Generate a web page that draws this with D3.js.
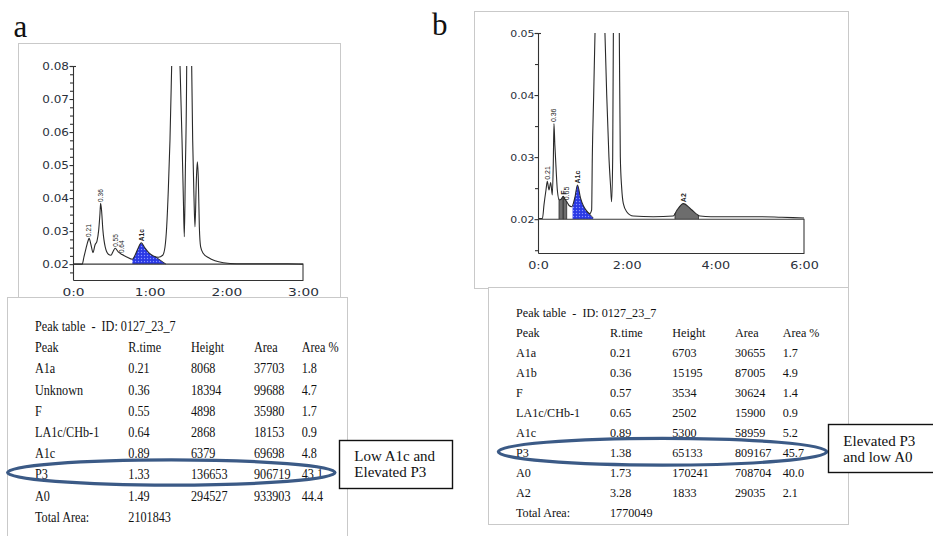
<!DOCTYPE html>
<html>
<head>
<meta charset="utf-8">
<script src="https://cdn.jsdelivr.net/npm/d3@7/dist/d3.min.js"></script>
<style>
  html, body { margin: 0; padding: 0; background: #ffffff; }
  svg { display: block; }
</style>
</head>
<body>
<svg id="fig" width="933" height="536"></svg>
<script>
// ---------- Chromatogram traces: [retention time (min), absorbance] ----------
const traceA = [
  [0, 0.02], [0.12, 0.02], [0.143, 0.0222], [0.17, 0.0248], [0.2, 0.0273], [0.21, 0.0278],
  [0.235, 0.0258], [0.261, 0.0235], [0.287, 0.0258], [0.313, 0.027], [0.335, 0.0303],
  [0.352, 0.0354], [0.36, 0.0384], [0.372, 0.0364], [0.39, 0.0303], [0.42, 0.0252],
  [0.461, 0.023], [0.496, 0.0227], [0.526, 0.024], [0.55, 0.0248], [0.59, 0.0237],
  [0.64, 0.0229], [0.70, 0.0222], [0.774, 0.0215], [0.809, 0.0227], [0.852, 0.025],
  [0.89, 0.0265], [0.935, 0.025], [0.991, 0.0234], [1.048, 0.0225], [1.113, 0.0221],
  [1.17, 0.0227], [1.2, 0.0252], [1.222, 0.0313], [1.243, 0.0424], [1.265, 0.0576],
  [1.287, 0.08], [1.33, 0.127], [1.396, 0.08], [1.422, 0.0576], [1.439, 0.0404],
  [1.452, 0.0283], [1.465, 0.0475], [1.483, 0.08], [1.49, 0.25], [1.548, 0.08],
  [1.561, 0.0576], [1.578, 0.0403], [1.591, 0.0313], [1.609, 0.0455], [1.622, 0.051],
  [1.635, 0.0455], [1.648, 0.0313], [1.665, 0.0252], [1.7, 0.0232], [1.765, 0.022],
  [1.852, 0.021], [1.961, 0.0204], [2.135, 0.0201], [2.5, 0.0201], [2.8, 0.0201], [3.0, 0.02]
];
const traceB = [
  [0, 0.0201], [0.1, 0.0201], [0.135, 0.0223], [0.18, 0.0247], [0.21, 0.0261], [0.248, 0.0247],
  [0.286, 0.0259], [0.323, 0.0239], [0.345, 0.029], [0.36, 0.0354], [0.38, 0.032],
  [0.406, 0.0284], [0.436, 0.0247], [0.48, 0.0231], [0.52, 0.0232], [0.57, 0.0237],
  [0.61, 0.0232], [0.65, 0.0228], [0.70, 0.0222], [0.76, 0.022], [0.835, 0.0236],
  [0.89, 0.0255], [0.96, 0.0234], [1.02, 0.0222], [1.06, 0.0217], [1.17, 0.0209],
  [1.21, 0.0215], [1.225, 0.03], [1.256, 0.04], [1.286, 0.05], [1.38, 0.065], [1.51, 0.05],
  [1.55, 0.04], [1.60, 0.03], [1.64, 0.025], [1.66, 0.0228], [1.685, 0.03], [1.70, 0.05],
  [1.73, 0.13], [1.834, 0.05], [1.857, 0.03], [1.888, 0.025], [1.925, 0.0225], [2.0, 0.0212],
  [2.15, 0.0205], [2.6, 0.0204], [3.05, 0.0205], [3.13, 0.0214], [3.28, 0.0225], [3.45, 0.0216],
  [3.655, 0.0205], [3.9, 0.0204], [4.5, 0.0204], [5.0, 0.0204], [5.5, 0.0203], [6.0, 0.0202]
];

// Integrated peak windows (retention time, min)
const grayWindowsA = [];
const blueStartA = 0.774;
const blueSkimA = [[1.07, 0.0223], [1.213, 0.02]];
const grayWindowsB = [[0.474, 0.57], [0.57, 0.647], [3.09, 3.62]];
const blueStartB = 0.78;
const blueSkimB = [[1.10, 0.0213], [1.245, 0.0202]];

// Peak tags written above the trace
const tagTextA = ["0.21", "0.36", "0.55", "0.64", "A1c"];
const tagTimeA = [0.21, 0.36, 0.55, 0.64, 0.89];
const tagTextB = ["0.21", "0.36", "F", "0.65", "A1c", "A2"];
const tagTimeB = [0.21, 0.36, 0.57, 0.65, 0.89, 3.28];

// Axis ticks
const yMajorA = [0.02, 0.03, 0.04, 0.05, 0.06, 0.07, 0.08];
const xTickA = [0, 1, 2, 3];
const xLabelA = ["0:0", "1:00", "2:00", "3:00"];
const yMajorB = [0.02, 0.03, 0.04, 0.05];
const xTickB = [0, 2, 4, 6];
const xLabelB = ["0:0", "2:00", "4:00", "6:00"];

// Peak tables
const sampleId = "0127_23_7";
const tableHeader = ["Peak", "R.time", "Height", "Area", "Area %"];
const peaksA = ["A1a", "Unknown", "F", "LA1c/CHb-1", "A1c", "P3", "A0"];
const rtimeA = [0.21, 0.36, 0.55, 0.64, 0.89, 1.33, 1.49];
const heightA = [8068, 18394, 4898, 2868, 6379, 136653, 294527];
const areaA = [37703, 99688, 35980, 18153, 69698, 906719, 933903];
const areaPctA = [1.8, 4.7, 1.7, 0.9, 4.8, 43.1, 44.4];
const totalAreaA = 2101843;
const peaksB = ["A1a", "A1b", "F", "LA1c/CHb-1", "A1c", "P3", "A0", "A2"];
const rtimeB = [0.21, 0.36, 0.57, 0.65, 0.89, 1.38, 1.73, 3.28];
const heightB = [6703, 15195, 3534, 2502, 5300, 65133, 170241, 1833];
const areaB = [30655, 87005, 30624, 15900, 58959, 809167, 708704, 29035];
const areaPctB = [1.7, 4.9, 1.4, 0.9, 5.2, 45.7, 40.0, 2.1];
const totalAreaB = 1770049;

// Callout notes
const noteA = ["Low A1c and", "Elevated P3"];
const noteB = ["Elevated P3", "and low A0"];

// ---------------------------------------------------------------------------
const svg = d3.select("#fig");
const defs = svg.append("defs");
const SERIF = "'Liberation Serif', 'Times New Roman', serif";
const SANS = "'DejaVu Sans', Verdana, sans-serif";
const NARROW = "'Liberation Sans Narrow', 'Liberation Sans', Arial, sans-serif";

// dithered blue fill for the A1c peak
const pat = defs.append("pattern").attr("id", "a1cfill")
  .attr("width", 3).attr("height", 3).attr("patternUnits", "userSpaceOnUse");
pat.append("rect").attr("width", 3).attr("height", 3).attr("fill", "#3040ee");
pat.append("rect").attr("width", 1).attr("height", 1).attr("fill", "#8e98f6");
pat.append("rect").attr("x", 1.5).attr("y", 1.5).attr("width", 1).attr("height", 1).attr("fill", "#1d28b8");

function valueAt(trace, t) {
  const i = d3.bisector(d => d[0]).left(trace, t);
  if (i <= 0) return trace[0][1];
  if (i >= trace.length) return trace[trace.length - 1][1];
  const a = trace[i - 1], b = trace[i];
  return a[1] + (t - a[0]) / (b[0] - a[0]) * (b[1] - a[1]);
}

function frame(x0, y0, x1, y1) {
  svg.append("rect").attr("x", x0 + 0.5).attr("y", y0 + 0.5)
    .attr("width", x1 - x0).attr("height", y1 - y0)
    .attr("fill", "#fff").attr("stroke", "#c9c9c9").attr("stroke-width", 1);
}

function drawChrom(c) {
  const g = svg.append("g");
  const [xl, xr] = c.x.range();
  const [yb, yt] = c.y.range();
  const yz = c.y(0.02);
  const line = d3.line().x(d => c.x(d[0])).y(d => c.y(d[1])).curve(d3.curveMonotoneX);
  const area = d3.area().x(d => c.x(d[0])).y0(yz).y1(d => c.y(d[1])).curve(d3.curveMonotoneX);

  defs.append("clipPath").attr("id", c.id + "-plot").append("rect")
    .attr("x", xl).attr("y", yt).attr("width", xr - xl).attr("height", yb - yt);

  // gray integrated peaks
  c.grayWindows.forEach((w, i) => {
    const cid = `${c.id}-g${i}`;
    defs.append("clipPath").attr("id", cid).append("rect")
      .attr("x", c.x(w[0])).attr("y", yt).attr("width", c.x(w[1]) - c.x(w[0])).attr("height", yz - yt);
    g.append("path").attr("d", area(c.trace)).attr("fill", "#6d6d6d").attr("clip-path", `url(#${cid})`);
    w.forEach(t => g.append("line")
      .attr("x1", c.x(t)).attr("x2", c.x(t)).attr("y1", yz).attr("y2", c.y(valueAt(c.trace, t)))
      .attr("stroke", "#2a2a2a").attr("stroke-width", 0.8));
  });

  // blue A1c peak with tangent skim
  const s0 = c.blueSkim[0], s1 = c.blueSkim[1];
  const poly = [
    [c.x(c.blueStart), yz], [c.x(c.blueStart), yt], [c.x(s0[0]), yt],
    [c.x(s0[0]), c.y(s0[1])], [c.x(s1[0]), c.y(s1[1])], [c.x(s1[0]), yz]
  ];
  defs.append("clipPath").attr("id", c.id + "-blue").append("polygon")
    .attr("points", poly.map(p => p.join(",")).join(" "));
  g.append("path").attr("d", area(c.trace)).attr("fill", "url(#a1cfill)").attr("clip-path", `url(#${c.id}-blue)`);
  g.append("line").attr("x1", c.x(s0[0])).attr("y1", c.y(s0[1])).attr("x2", c.x(s1[0])).attr("y2", c.y(s1[1]))
    .attr("stroke", "#2a2a2a").attr("stroke-width", 0.9);

  // baseline box
  g.append("path").attr("d", `M${xl},${yz}H${xr}V${yb}`)
    .attr("fill", "none").attr("stroke", "#3a3a3a").attr("stroke-width", 1.1);

  // trace
  g.append("path").attr("d", line(c.trace)).attr("fill", "none")
    .attr("stroke", "#2a2a2a").attr("stroke-width", 1.1).attr("clip-path", `url(#${c.id}-plot)`);

  // y axis
  const yMinor = d3.range(c.y.domain()[0], c.y.domain()[1] + 1e-9, c.minorStep)
    .map(v => Math.ceil(v / c.minorStep - 1e-6) * c.minorStep)
    .filter(v => v >= c.y.domain()[0] && !c.yMajor.some(m => Math.abs(m - v) < 1e-6));
  const ya1 = g.append("g").attr("transform", `translate(${xl},0)`)
    .call(d3.axisLeft(c.y).tickValues(yMinor).tickSize(3).tickSizeOuter(0).tickFormat(""));
  const ya2 = g.append("g").attr("transform", `translate(${xl},0)`)
    .call(d3.axisLeft(c.y).tickValues(c.yMajor).tickSize(3.5).tickSizeOuter(0).tickFormat(d3.format(".2f")));
  ya2.select(".domain").remove();
  [ya1, ya2].forEach(a => a.attr("color", "#333").selectAll("path,line").attr("stroke-width", 1.1));
  ya2.selectAll(".tick text").attr("x", 0)
    .attr("font-family", SANS).attr("font-size", c.yFont).attr("fill", "#2a2f3a")
    .attr("transform", `translate(${c.yLabelGap},0) scale(${c.yScaleX},1)`);
  g.append("line").attr("x1", xl - 3).attr("x2", xl + 3).attr("y1", yt + 0.5).attr("y2", yt + 0.5)
    .attr("stroke", "#333").attr("stroke-width", 1.1);

  // x axis
  const xa = g.append("g").attr("transform", `translate(0,${yb})`)
    .call(d3.axisBottom(c.x).tickValues(c.xTicks).tickSize(0).tickSizeOuter(0)
      .tickPadding(c.xPad).tickFormat((d, i) => c.xLabels[i]));
  xa.attr("color", "#333").select(".domain").attr("stroke-width", 1.1);
  xa.selectAll(".tick text").attr("font-family", SANS).attr("font-size", c.xFont).attr("fill", "#2a2f3a")
    .attr("transform", `scale(${c.xScaleX},1)`);

  // peak tags
  c.tagText.forEach((txt, i) => {
    const t = c.tagTime[i], v = valueAt(c.trace, t);
    const named = /[A-Z]/.test(txt);
    g.append("text")
      .attr("transform", `translate(${c.x(t) + c.tagFont * 0.36},${c.y(v) - 1.5}) rotate(-90)`)
      .attr("font-family", NARROW).attr("font-size", c.tagFont)
      .attr("font-weight", named ? "bold" : "normal").attr("fill", "#222")
      .text(txt);
  });
}

function drawTable(t) {
  const g = svg.append("g").attr("font-family", SERIF).attr("font-size", t.font).attr("fill", "#111");
  const put = (s, col, row) => g.append("text")
    .attr("transform", `translate(${t.cols[col]},${t.y0 + row * t.dy}) scale(${t.sx},1)`)
    .style("white-space", "pre").text(s);
  put(`Peak table  -  ID: ${sampleId}`, 0, 0);
  tableHeader.forEach((h, j) => put(h, j, 1));
  t.peaks.forEach((p, i) => {
    put(p, 0, i + 2);
    put(t.rtime[i].toFixed(2), 1, i + 2);
    put(String(t.height[i]), 2, i + 2);
    put(String(t.area[i]), 3, i + 2);
    put(t.pct[i].toFixed(1), 4, i + 2);
  });
  put("Total Area:", 0, t.peaks.length + 2);
  put(String(t.total), 1, t.peaks.length + 2);
}

function drawNote(n) {
  svg.append("rect").attr("x", n.x).attr("y", n.y).attr("width", n.w).attr("height", n.h)
    .attr("fill", "#fff").attr("stroke", "#111").attr("stroke-width", 1.4);
  n.lines.forEach((s, i) => svg.append("text").attr("x", n.tx).attr("y", n.ty + i * 16)
    .attr("font-family", SERIF).attr("font-size", 15).attr("fill", "#111").text(s));
}

// ---------- panel frames ----------
frame(18, 43, 340, 298);
frame(474, 11, 848, 288);

// ---------- chromatograms ----------
drawChrom({
  id: "ca", trace: traceA,
  x: d3.scaleLinear([0, 3], [73, 303]),
  y: d3.scaleLinear([0.0152, 0.08], [280, 66]),
  grayWindows: grayWindowsA, blueStart: blueStartA, blueSkim: blueSkimA,
  tagText: tagTextA, tagTime: tagTimeA, tagFont: 6.5,
  yMajor: yMajorA, minorStep: 0.0025, yFont: 10, yScaleX: 1.2, yLabelGap: -4,
  xTicks: xTickA, xLabels: xLabelA, xFont: 11, xScaleX: 1.25, xPad: 8
});
drawChrom({
  id: "cb", trace: traceB,
  x: d3.scaleLinear([0, 6], [538, 804]),
  y: d3.scaleLinear([0.01455, 0.05], [253, 33]),
  grayWindows: grayWindowsB, blueStart: blueStartB, blueSkim: blueSkimB,
  tagText: tagTextB, tagTime: tagTimeB, tagFont: 7,
  yMajor: yMajorB, minorStep: 0.005, yFont: 9.5, yScaleX: 1.15, yLabelGap: -3.5,
  xTicks: xTickB, xLabels: xLabelB, xFont: 10.5, xScaleX: 1.22, xPad: 9
});

// ---------- peak tables ----------
frame(7, 297, 347, 545);
frame(488, 287, 848, 524);
drawTable({ peaks: peaksA, rtime: rtimeA, height: heightA, area: areaA, pct: areaPctA, total: totalAreaA,
  cols: [35, 128.3, 191, 254, 301.7], y0: 331, dy: 21.2, font: 14, sx: 0.87 });
drawTable({ peaks: peaksB, rtime: rtimeB, height: heightB, area: areaB, pct: areaPctB, total: totalAreaB,
  cols: [516, 610, 672.3, 735, 782.7], y0: 317.3, dy: 19.93, font: 13, sx: 0.935 });

// ---------- P3 row highlights ----------
svg.append("ellipse").attr("cx", 171.3).attr("cy", 472.5).attr("rx", 163.7).attr("ry", 12.6)
  .attr("fill", "none").attr("stroke", "#3b5a86").attr("stroke-width", 3.2);
svg.append("ellipse").attr("cx", 662.5).attr("cy", 451.7).attr("rx", 164.2).attr("ry", 13.4)
  .attr("fill", "none").attr("stroke", "#3b5a86").attr("stroke-width", 3.2);

// ---------- callouts ----------
drawNote({ x: 339.5, y: 440.5, w: 113, h: 48, tx: 354.3, ty: 460.7, lines: noteA });
drawNote({ x: 828.5, y: 424.5, w: 110, h: 48, tx: 843.3, ty: 445.7, lines: noteB });

// ---------- panel letters ----------
svg.append("text").attr("x", 13.5).attr("y", 37).attr("font-family", SERIF).attr("font-size", 31)
  .attr("fill", "#111").text("a");
svg.append("text").attr("x", 432).attr("y", 35).attr("font-family", SERIF).attr("font-size", 31)
  .attr("fill", "#111").text("b");
</script>
</body>
</html>
